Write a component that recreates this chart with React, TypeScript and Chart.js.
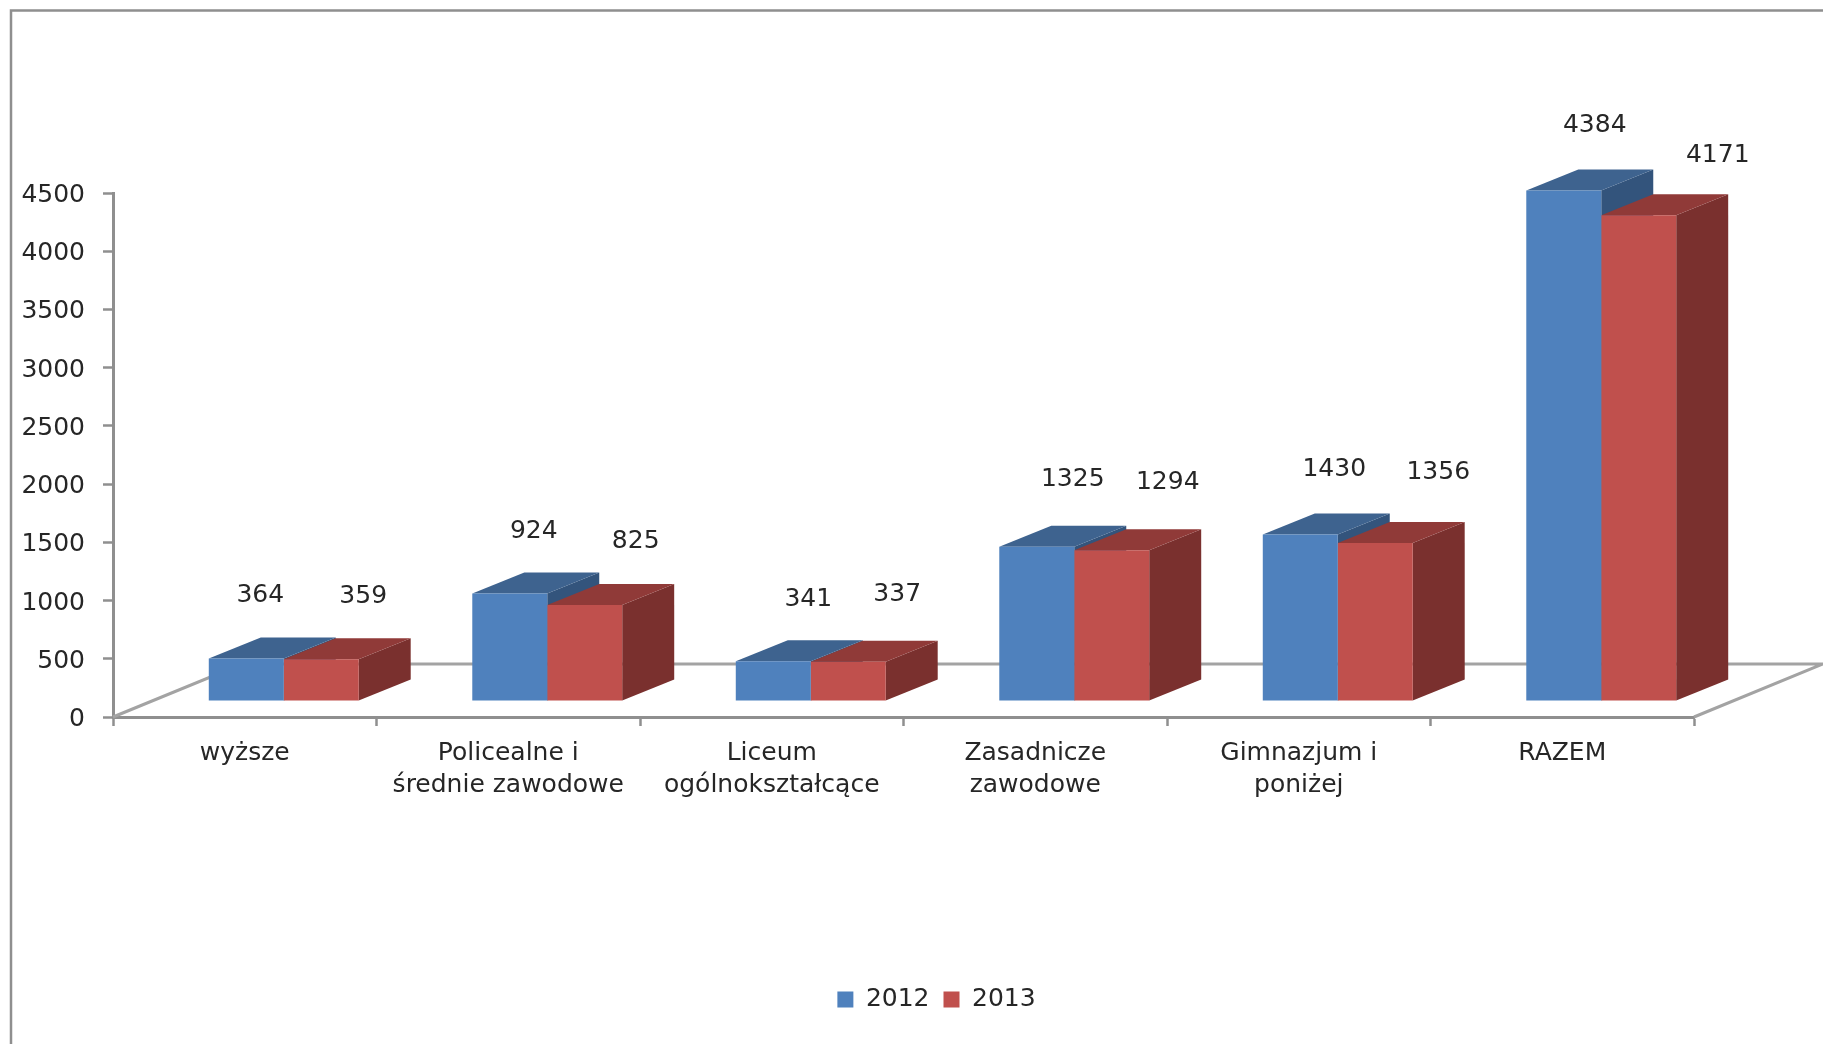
import React, { useEffect, useRef } from "react";
import { Chart, registerables } from "chart.js";

Chart.register(...registerables);

const categories = [
  "wyższe",
  ["Policealne i", "średnie zawodowe"],
  ["Liceum", "ogólnokształcące"],
  ["Zasadnicze", "zawodowe"],
  ["Gimnazjum i", "poniżej"],
  "RAZEM",
];
const values2012 = [364, 924, 341, 1325, 1430, 4384];
const values2013 = [359, 825, 337, 1294, 1356, 4171];

// Hand-placed label offsets of the original, relative to each bar's front top centre.
const labelOffsets2012 = [[14, -63], [24, -62], [35, -62], [36, -67], [34, -65], [31, -65]];
const labelOffsets2013 = [[42, -63], [51, -63], [49, -67], [56, -68], [63, -71], [79, -60]];

const FONT = "'DejaVu Sans', sans-serif";
const TEXT = "#262626";
const AXIS = "#8f8f8f";
const FLOOR = { dx: 129, dy: 53 };
const DEPTH = { dx: 52, dy: 21 };
const SHIFT = { dx: 39, dy: 16 };
const FACES = [
  { front: "#4F81BD", top: "#3E638F", side: "#33547C" },
  { front: "#C0504D", top: "#903A38", side: "#7A302E" },
];

const poly = (ctx: CanvasRenderingContext2D, pts: number[][], fill: string) => {
  ctx.beginPath();
  pts.forEach(([x, y], i) => (i ? ctx.lineTo(x, y) : ctx.moveTo(x, y)));
  ctx.closePath();
  ctx.fillStyle = fill;
  ctx.fill();
};

const scene = {
  id: "scene",
  afterLayout(chart: any) {
    const l = chart.legend;
    l.left += 89.5;
    l.right += 89.5;
    const h = l.bottom - l.top;
    l.top = 973;
    l.bottom = 973 + h;
  },
  beforeDraw(chart: any) {
    const { ctx, width, height } = chart;
    ctx.save();
    ctx.fillStyle = "#ffffff";
    ctx.fillRect(0, 0, width, height);
    ctx.strokeStyle = AXIS;
    ctx.lineWidth = 2.5;
    ctx.beginPath();
    ctx.moveTo(11, height);
    ctx.lineTo(11, 10.5);
    ctx.lineTo(width, 10.5);
    ctx.stroke();
    ctx.restore();
  },
  beforeDatasetsDraw(chart: any) {
    const { ctx, chartArea: a } = chart;
    ctx.save();
    ctx.strokeStyle = "#a3a3a3";
    ctx.lineWidth = 3;
    ctx.beginPath();
    ctx.moveTo(a.left, a.bottom);
    ctx.lineTo(a.left + FLOOR.dx, a.bottom - FLOOR.dy);
    ctx.lineTo(a.right + FLOOR.dx, a.bottom - FLOOR.dy);
    ctx.lineTo(a.right, a.bottom);
    ctx.stroke();
    [0, 1].forEach((d) => {
      chart.getDatasetMeta(d).data.forEach((bar: any) => {
        const half = bar.width / 2;
        const x0 = bar.x - half + SHIFT.dx;
        const x1 = bar.x + half + SHIFT.dx;
        const t = bar.y - SHIFT.dy;
        const b = bar.base - SHIFT.dy;
        poly(ctx, [[x1, t], [x1 + DEPTH.dx, t - DEPTH.dy], [x1 + DEPTH.dx, b - DEPTH.dy], [x1, b]], FACES[d].side);
        poly(ctx, [[x0, t], [x1, t], [x1 + DEPTH.dx, t - DEPTH.dy], [x0 + DEPTH.dx, t - DEPTH.dy]], FACES[d].top);
      });
    });
    ctx.translate(SHIFT.dx, -SHIFT.dy);
  },
  afterDatasetsDraw(chart: any) {
    const { ctx } = chart;
    ctx.restore();
    ctx.save();
    ctx.font = `25px ${FONT}`;
    ctx.fillStyle = TEXT;
    ctx.textAlign = "center";
    ctx.textBaseline = "middle";
    [labelOffsets2012, labelOffsets2013].forEach((offsets, d) => {
      const values = chart.data.datasets[d].data;
      chart.getDatasetMeta(d).data.forEach((bar: any, i: number) => {
        ctx.fillText(String(values[i]), bar.x + SHIFT.dx + offsets[i][0], bar.y - SHIFT.dy + offsets[i][1]);
      });
    });
    ctx.restore();
  },
};

export default function App() {
  const ref = useRef<HTMLCanvasElement>(null);
  useEffect(() => {
    const chart = new Chart(ref.current as HTMLCanvasElement, {
      type: "bar",
      data: {
        labels: categories as any,
        datasets: [
          { label: "2012", data: values2012, backgroundColor: FACES[0].front, borderWidth: 0, clip: false as any },
          { label: "2013", data: values2013, backgroundColor: FACES[1].front, borderWidth: 0, clip: false as any },
        ],
      },
      plugins: [scene],
      options: {
        animation: false,
        responsive: false,
        devicePixelRatio: 1,
        categoryPercentage: 0.569,
        barPercentage: 1,
        layout: { padding: { top: 193, right: 129, bottom: 0, left: 0 } },
        plugins: {
          title: { display: false },
          tooltip: { enabled: false },
          legend: {
            position: "bottom",
            labels: {
              boxWidth: 16,
              boxHeight: 16,
              padding: 14,
              color: TEXT,
              font: { family: FONT, size: 25 },
            },
          },
        },
        scales: {
          x: {
            offset: true,
            afterFit: (s: any) => {
              s.height = 278;
            },
            border: { color: AXIS, width: 3 },
            grid: { offset: true, drawOnChartArea: false, tickLength: 9, tickColor: AXIS, tickWidth: 2.5 },
            ticks: {
              autoSkip: false,
              maxRotation: 0,
              minRotation: 0,
              padding: 11,
              color: TEXT,
              font: { family: FONT, size: 25, lineHeight: 1.28 },
            },
          },
          y: {
            min: 0,
            max: 4500,
            afterFit: (s: any) => {
              s.width = 113;
            },
            border: { color: AXIS, width: 3 },
            grid: { drawOnChartArea: false, tickLength: 10, tickColor: AXIS, tickWidth: 2.5 },
            ticks: {
              stepSize: 500,
              padding: 18,
              labelOffset: 2.5,
              color: TEXT,
              font: { family: FONT, size: 25 },
              callback: (v: any) => String(v),
            },
          },
        },
      } as any,
    });
    return () => chart.destroy();
  }, []);
  return (
    <div style={{ position: "fixed", left: 0, top: 0, width: 1823, height: 1044, background: "#fff" }}>
      <canvas ref={ref} width={1823} height={1044} style={{ display: "block" }} />
    </div>
  );
}
